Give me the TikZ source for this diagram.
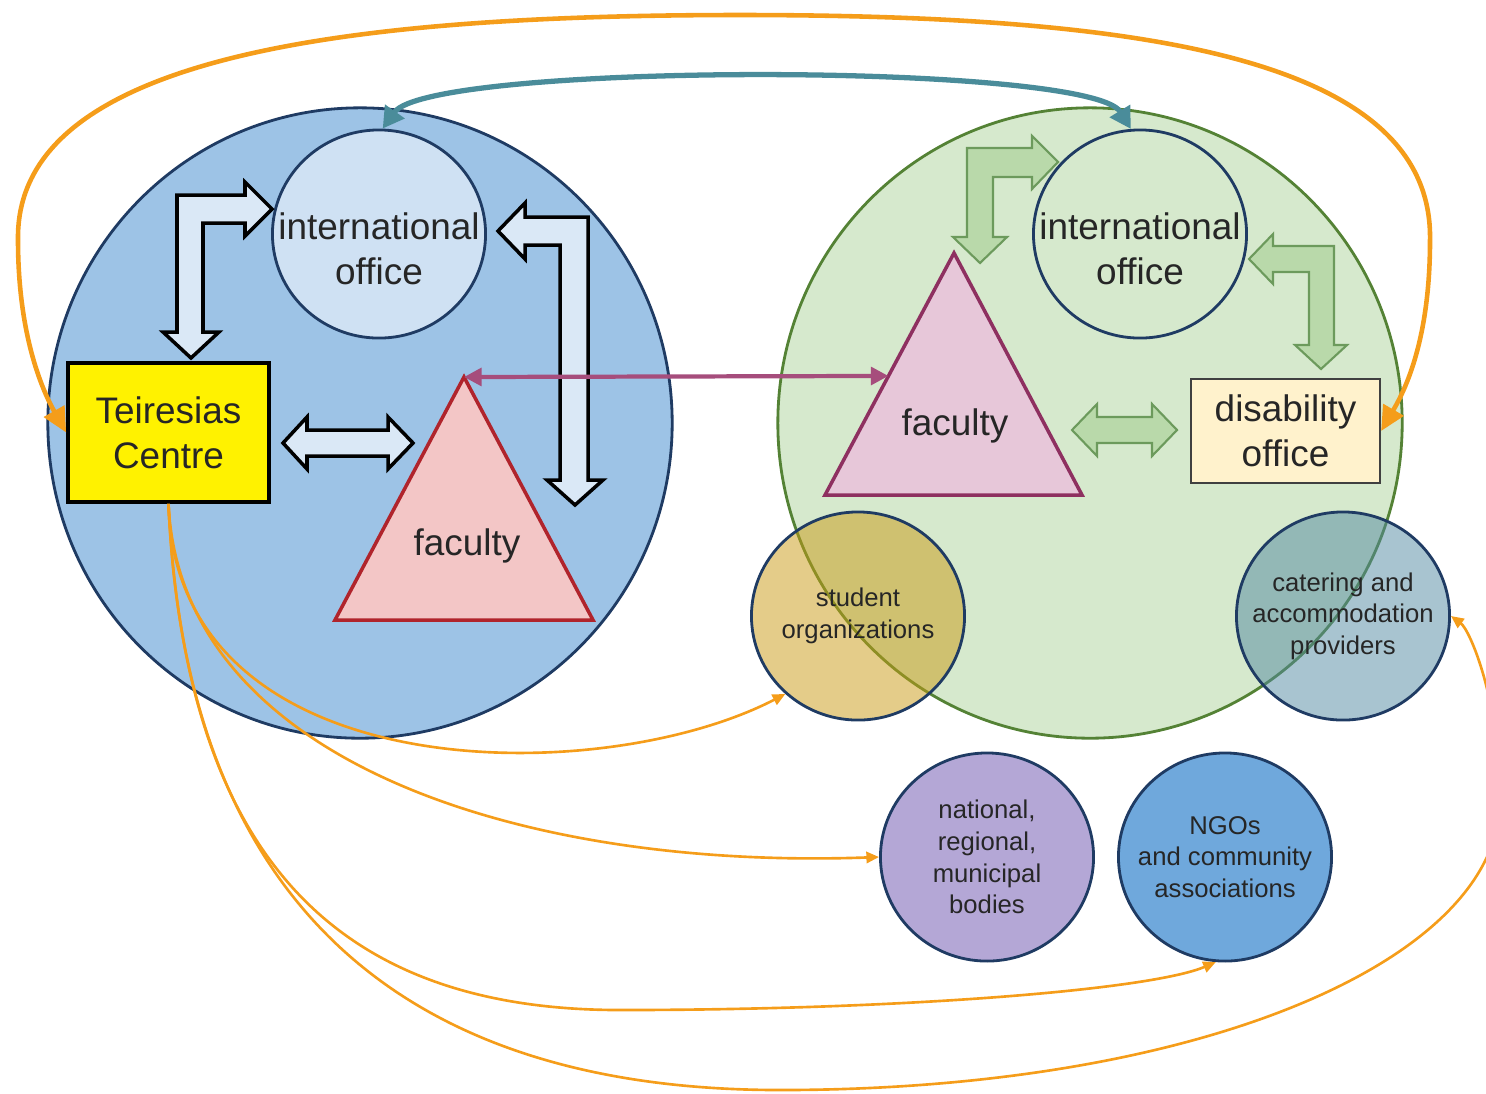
\documentclass[tikz,border=0pt]{standalone}
\usepackage{fontspec}
\setmainfont{Liberation Sans}
\usetikzlibrary{shapes.geometric, arrows.meta, positioning, calc}

\definecolor{uniblue}{HTML}{9DC3E6}
\definecolor{navy}{HTML}{1F3B63}
\definecolor{iofill}{HTML}{CFE1F3}
\definecolor{unigreen}{HTML}{D6E9CD}
\definecolor{greenline}{HTML}{548235}
\definecolor{facpink}{HTML}{F3C6C6}
\definecolor{facred}{HTML}{B0242C}
\definecolor{facmauve}{HTML}{E7C7D9}
\definecolor{facplum}{HTML}{8E3060}
\definecolor{disfill}{HTML}{FFF2CC}
\definecolor{studfill}{HTML}{C99A14}
\definecolor{catfill}{HTML}{5189A1}
\definecolor{natfill}{HTML}{B4A7D6}
\definecolor{ngofill}{HTML}{6FA8DC}
\definecolor{arrorange}{HTML}{F59D1A}
\definecolor{arrteal}{HTML}{4A8C9A}
\definecolor{arrmag}{HTML}{A64D7C}
\definecolor{blkfill}{HTML}{DAE8F6}
\definecolor{grnfill}{HTML}{B9D9AA}
\definecolor{grnedge}{HTML}{6C9A5C}
\definecolor{txtgrey}{HTML}{262626}

\newcommand{\txtbig}{\fontsize{10.5pt}{12.8pt}\selectfont}
\newcommand{\txtsmall}{\fontsize{7.3pt}{9pt}\selectfont}

\begin{document}
\begin{tikzpicture}[x=0.01cm, y=-0.01cm,
	univ/.style={ellipse, minimum width=6.24cm, minimum height=6.30cm, line width=0.8pt},
	office/.style={ellipse, draw=navy, line width=0.8pt, minimum width=2.13cm, minimum height=2.08cm},
	partner/.style={ellipse, draw=navy, line width=0.8pt, inner sep=0pt,
		minimum width=2.13cm, minimum height=2.08cm},
	ptxt/.style={align=center, font=\txtsmall, text=txtgrey},
	lbl/.style={align=center, font=\txtbig, text=txtgrey},
	blueblock/.style={fill=blkfill, draw=black, line width=1pt},
	greenblock/.style={fill=grnfill, draw=grnedge, line width=0.6pt},
	outerlink/.style={draw=arrorange, line width=1.3pt,
		{Triangle[length=7pt,width=6.5pt]}-{Triangle[length=7pt,width=6.5pt]}},
	officelink/.style={draw=arrteal, line width=1.5pt,
		{Triangle[length=6pt,width=6.5pt]}-{Triangle[length=6pt,width=6.5pt]}},
	facultylink/.style={draw=arrmag, line width=1.2pt,
		{Triangle[length=5pt,width=5pt]}-{Triangle[length=5pt,width=5pt]}},
	orangelink/.style={draw=arrorange, line width=0.75pt, -{Triangle[length=3.6pt,width=3.2pt]}}]
	\useasboundingbox (0,0) rectangle (1486,1093);

	\node[univ, fill=uniblue, draw=navy] (uL) at (360,423) {};
	\node[univ, fill=unigreen, draw=greenline] (uR) at (1090,423) {};

	\node[office, fill=iofill] (ioL) at (379,234) {};
	\node[lbl] (ioLtxt) at ($(ioL)+(0,15)$) {international\\office};
	\node[office, fill=unigreen] (ioR) at (1140,234) {};
	\node[lbl] (ioRtxt) at ($(ioR)+(0,15)$) {international\\office};

	\node[lbl, rectangle, fill=yellow, draw=black, line width=1pt,
		minimum width=2.01cm, minimum height=1.39cm] (tc) at (168.5,432.5) {Teiresias\\Centre};
	\node[lbl, rectangle, fill=disfill, draw=black!75, line width=0.6pt,
		minimum width=1.89cm, minimum height=1.04cm] (dis) at (1285.5,431) {disability\\office};

	\coordinate (fLtop) at (464,377);
	\coordinate (fLl) at (335,620);
	\coordinate (fLr) at (593,620);
	\draw[fill=facpink, draw=facred, line width=1pt] (fLtop) -- (fLr) -- (fLl) -- cycle;
	\node[lbl] (facL) at (467,546) {faculty};

	\coordinate (fRtop) at (954,253);
	\coordinate (fRl) at (825,495);
	\coordinate (fRr) at (1082,495);
	\draw[fill=facmauve, draw=facplum, line width=1pt] (fRtop) -- (fRr) -- (fRl) -- cycle;
	\node[lbl] (facR) at (955,426) {faculty};

	\draw[blueblock] (272,209) -- (245,182) -- (245,195) -- (177,195) -- (177,332) -- (163,332)
		-- (191,358) -- (219,332) -- (203,332) -- (203,223) -- (245,223) -- (245,236) -- cycle;
	\draw[blueblock] (498,231) -- (525,203) -- (525,217) -- (588,217) -- (588,480) -- (603,480)
		-- (575,505) -- (547,480) -- (560,480) -- (560,245) -- (525,245) -- (525,259) -- cycle;
	\draw[blueblock] (283,443) -- (307,417) -- (307,430) -- (388,430) -- (388,417) -- (413,443)
		-- (388,469) -- (388,456) -- (307,456) -- (307,469) -- cycle;

	\draw[greenblock] (1058,162) -- (1032,136) -- (1032,148) -- (967,148) -- (967,237) -- (953,237)
		-- (980,263) -- (1007,237) -- (993,237) -- (993,177) -- (1032,177) -- (1032,189) -- cycle;
	\draw[greenblock] (1249,259) -- (1273,234) -- (1273,246) -- (1334,246) -- (1334,345) -- (1347,345)
		-- (1321,369) -- (1295,345) -- (1309,345) -- (1309,272) -- (1273,272) -- (1273,284) -- cycle;
	\draw[greenblock] (1072,430) -- (1097,404) -- (1097,417) -- (1152,417) -- (1152,404) -- (1177,430)
		-- (1152,456) -- (1152,443) -- (1097,443) -- (1097,456) -- cycle;

	\draw[officelink] (ioL.88) .. controls (430,62) and (1090,62) .. (ioR.95);
	\draw[facultylink] (fLtop) -- ($(fRtop)!0.508!(fRl)$);
	\draw[outerlink] (tc.west) .. controls (45,395) and (18,340) .. (18,240)
		.. controls (15,60) and (330,15) .. (740,15)
		.. controls (1150,15) and (1433,60) .. (1430,240)
		.. controls (1430,340) and (1405,390) .. (dis.east);

	\node[partner, fill=studfill, fill opacity=0.5] (stud) at (858,616) {};
	\node[ptxt] (studtxt) at (stud) {student\\organizations};
	\node[partner, fill=catfill, fill opacity=0.5] (cat) at (1343,616) {};
	\node[ptxt] (cattxt) at (cat) {catering and\\accommodation\\providers};
	\node[partner, fill=natfill] (nat) at (987,857) {};
	\node[ptxt] (nattxt) at (nat) {national,\\regional,\\municipal\\bodies};
	\node[partner, fill=ngofill] (ngo) at (1225,857) {};
	\node[ptxt] (ngotxt) at (ngo) {NGOs\\and community\\associations};

	\draw[orangelink] (tc.south) .. controls (175,790) and (600,790) .. (stud.227);
	\draw[orangelink] (tc.south) .. controls (180,760) and (520,870) .. (nat.west);
	\draw[orangelink] (tc.south) .. controls (185,850) and (330,1010) .. (620,1010)
		.. controls (900,1010) and (1150,990) .. (ngo.265);
	\draw[orangelink] (tc.south) .. controls (185,900) and (400,1090) .. (780,1090)
		.. controls (1200,1090) and (1500,960) .. (1500,800)
		.. controls (1500,700) and (1470,630) .. (cat.east);
\end{tikzpicture}
\end{document}
